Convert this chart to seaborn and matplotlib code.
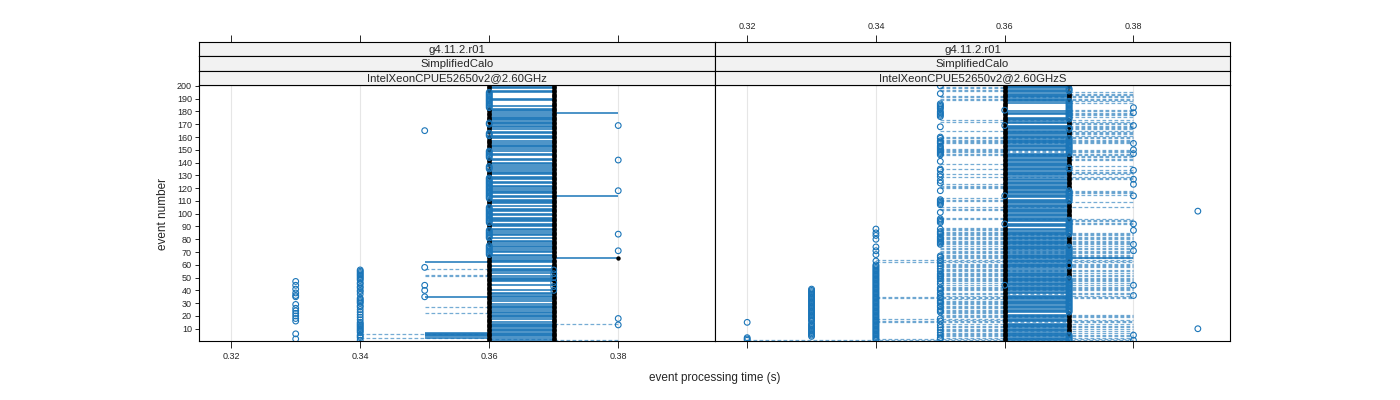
import matplotlib

matplotlib.use("Agg")

import matplotlib.pyplot as plt
import pandas as pd
import seaborn as sns

# one character per event (events 1..200, ten per group):
# digit d -> 0.3d s, "." -> no mark for that event
L_BLACK_A = (
    "6666666666 6666666666 6666666666 6666666666 6666666666 "
    "6666666666 6666666... .....66666 .......666 66........ "
    ".....66666 6......... ........66 6666...666 666......6 "
    "6666666666 ...666666. .666666666 66........ .....66666"
)
L_BLACK_B = (
    "7777777777 7777777777 7777777777 777777777. 77.77.777. "
    "77.77.7777 7777877777 7777777777 7777777777 7777777777 "
    "7777777777 7777777777 7777777777 7777777777 7777777777 "
    "7777777777 7777777777 7777777777 7777777777 7777777777"
)
L_BLUE_A = (
    "4344434444 4444434343 4343434434 4444334344 3443443444 "
    "444444.... .......... .......... .......... .......... "
    ".......... .......... .......... .......... .......... "
    ".......... .......... .......... .......... .........."
)
L_BLUE_B = (
    ".......... .......... .......... .........7 ..7..7...7 "
    "..7..7.... .......666 66666..... 6666666... ..66666666 "
    "66666..... .666666666 66666666.. ....666... ...666666. "
    ".......... 666......6 6......... ..66666666 66666....."
)
L_BLUE_C = (
    ".......... ..8....8.. .......... ....5....5 ...5...... "
    ".......5.. .......... 8......... ...8...... .......... "
    ".......... .......8.. .......... .......... .8........ "
    ".......... ....5...8. .......... .......... .........."
)
L_SOLID_LO = (
    "6.55555666 66666..666 666.66666. .66.5666.6 ...6..6666 "
    "6..6666.6. .5666.66.6 66.666.66. 6.66.666.6 66.6666.66 "
    ".666.6.666 6.66.6666. 66.66.666. 6666.66.66 .66..66.6. "
    "66666.6.66 6.66.6.666 6666666.66 66.6....66 ....66.66."
)
L_SOLID_HI = (
    "7.77777777 77777..777 777.77777. .77.7777.7 ...7..7777 "
    "7..7777.7. .7778.77.7 77.777.77. 7.77.777.7 77.7777.77 "
    ".777.7.777 7.78.7777. 77.77.777. 7777.77.77 .77..77.7. "
    "77777.7.77 7.77.7.777 7777777.87 77.7....77 ....77.77."
)
L_DASH_LO = (
    "764..4.... ...7...... .5....5... .......... .......... "
    "55....5... .......... .......... .......... .......... "
    ".......... .......... .......... .......... .......... "
    ".......... .......... .......... .......... .........."
)
L_DASH_HI = (
    "876..6.... ...8...... .6....6... .......... .......... "
    "66....6... .......... .......... .......... .......... "
    ".......... .......... .......... .......... .......... "
    ".......... .......... .......... .......... .........."
)

R_BLACK_A = (
    "6666666666 6666666666 6666666666 6666666666 6666666666 "
    "6666666666 6666666666 6666666666 6666666666 6666666666 "
    "6666666666 6666666666 6666666666 6666666666 6666666666 "
    "6666666666 6666666666 6666666666 6666666666 6666666666"
)
R_BLACK_B = (
    ".....77777 7777777777 77........ .......... .........7 "
    "77777777.. 777....... ....777777 777....... .....77777 "
    "777777777. ........77 7777777777 7777..7777 777777.... "
    ".........7 77777..777 777....... ........77 77777...77"
)
R_BLUE_A = (
    "2223333333 3333233333 3333333333 3333333333 3......... "
    ".......... .......... .......... .......... .......... "
    ".......... .......... .......... .......... .......... "
    ".......... .......... .......... .......... .........."
)
R_BLUE_B = (
    "4444444444 4444444444 4444444444 4444444444 4444444444 "
    "4444444444 ..4....4.. 4..4.....4 ..4.4..4.. .......... "
    ".......... .......... .......... .......... .......... "
    ".......... .......... .......... .......... .........."
)
R_BLUE_C = (
    ".55.5.5.5. 5.5..5.5.. ..555.55.5 55.55.55.5 55.65.5.55 "
    "555.5.5.5. 5.55.55... .....55555 55.555.5.. .65555.... "
    "5.....5555 5..6...5.. ...5.5..5. 5..55..... 5....55555 "
    "555.555.55 .......56. .....55555 655555.... ...5.....5"
)
R_BLUE_D = (
    "77777..... .......... ..77777777 7777777777 777777777. "
    "........77 ...7777777 7777...... ...7777777 77777..... "
    ".........7 77777777.. .......... ....77.... ......7777 "
    "777777777. .....77... ...7777777 77777777.. .....777.."
)
R_BLUE_E = (
    "8...8....9 .......... .......... .....8.... ...8...... "
    ".......... .......... 8....8.... ......8... .8........ "
    ".9........ ...8...... ..8...8... ...8...... ......8..8 "
    "....8..... ........8. ........8. ..8....... .........."
)
R_SOLID_LO = (
    "6666666666 6666.66666 6.66666666 666666.666 6666666666 "
    "66666.6666 666666666. 6666666666 66666666.6 66.6666666 "
    "6666666666 6.66666666 6666666.66 6666666666 6666666..6 "
    "6666666666 666666666. 66666..666 ......6666 6666666666"
)
R_SOLID_HI = (
    "7777777777 7777.77777 7.77777777 777777.777 7777777777 "
    "77777.7777 777787777. 7777777777 77777777.7 77.7777777 "
    "7777777777 7.77777777 7777777.77 7777777777 7777777..7 "
    "7777777777 777777777. 77777..777 ......7777 7777777777"
)
R_DASH_LO = (
    "2455555555 55.5445455 5555555555 55544555.5 5555.55555 "
    "5555555555 5454555555 555.555555 555555555. .777755... "
    "..555...75 55..7777.5 555...775. 57775.7.5. .777755555 "
    "5...555555 7777577777 755..77777 7.....7755 557775555."
)
R_DASH_HI = (
    "8888868868 88.8888688 8666666666 66688888.8 8888.88888 "
    "8868886888 8888888888 888.888888 888886666. .888886... "
    "..668...86 66..8888.6 666...888. 88886.8.6. .888888888 "
    "6...888888 8888888888 888..88888 8.....8888 888886666."
)

LEVELS = ["g4.11.2.r01", "SimplifiedCalo"]
CPUS = ["IntelXeonCPUE52650v2@2.60GHz", "IntelXeonCPUE52650v2@2.60GHzS"]
X_TICKS = [0.32, 0.34, 0.36, 0.38]
Y_TICKS = list(range(10, 201, 10))

BLUE = "#1a75b8"


def points(*codes):
    rows = []
    for code in codes:
        code = code.replace(" ", "")
        for i, c in enumerate(code):
            if c != ".":
                rows.append((i + 1, 0.3 + int(c) / 100))
    return pd.DataFrame(rows, columns=["event", "time"])


def segments(lo, hi):
    lo = lo.replace(" ", "")
    hi = hi.replace(" ", "")
    rows = []
    for i, (a, b) in enumerate(zip(lo, hi)):
        if a != "." and b != ".":
            rows.append((i + 1, 0.3 + int(a) / 100, 0.3 + int(b) / 100))
    return pd.DataFrame(rows, columns=["event", "lo", "hi"])


def draw_panel(ax, black, blue, solid, dashed):
    ax.set_xlim(0.315, 0.395)
    ax.set_ylim(0.4, 200.5)
    ax.set_xticks(X_TICKS)
    ax.set_yticks(Y_TICKS)
    ax.grid(axis="x", color="#e6e6e6", lw=0.8)
    ax.grid(axis="y", visible=False)
    ax.set_axisbelow(True)
    ax.hlines(dashed["event"], dashed["lo"], dashed["hi"], colors=BLUE,
              linestyles=(0, (3.0, 1.8)), lw=0.9, alpha=0.6, zorder=2)
    ax.hlines(solid["event"], solid["lo"], solid["hi"], colors=BLUE,
              lw=1.1, alpha=1.0, zorder=2)
    sns.scatterplot(data=black, x="time", y="event", ax=ax, color="black",
                    s=10, linewidth=0, legend=False, zorder=3)
    sns.scatterplot(data=blue, x="time", y="event", ax=ax, marker="o", s=17,
                    facecolor="none", edgecolor=BLUE, linewidth=0.8,
                    legend=False, zorder=4)
    ax.set_xlabel("")
    ax.set_ylabel("")
    for sp in ax.spines.values():
        sp.set_color("black")
        sp.set_linewidth(0.8)


def draw_strips(fig, left, width, cpu, top_labels):
    names = LEVELS + [cpu]
    h = 0.0362
    bottom = 0.7868
    axes = []
    for k, name in enumerate(names):
        y0 = bottom + (2 - k) * h
        sax = fig.add_axes([left, y0, width, h])
        sax.set_facecolor("#f2f2f2")
        sax.set_xlim(0.315, 0.395)
        sax.set_yticks([])
        sax.set_xticks([])
        for sp in sax.spines.values():
            sp.set_color("black")
            sp.set_linewidth(0.8)
        sax.text(0.5, 0.47, name, transform=sax.transAxes, ha="center",
                 va="center", fontsize=8.2)
        axes.append(sax)
    top = axes[0]
    top.set_xticks(X_TICKS)
    top.tick_params(axis="x", bottom=False, labelbottom=False, top=True,
                    labeltop=top_labels, length=5, width=0.7, labelsize=6.5,
                    pad=3)
    if top_labels:
        top.set_xticklabels([f"{v:.2f}" for v in X_TICKS])


sns.set_theme(style="white")
plt.rcParams["font.family"] = ["Liberation Sans", "DejaVu Sans"]

fig = plt.figure(figsize=(14, 4), dpi=100)
ax_l = fig.add_axes([0.1421, 0.1475, 0.3686, 0.6393])
ax_r = fig.add_axes([0.5107, 0.1475, 0.3679, 0.6393])

draw_panel(ax_l,
           points(L_BLACK_A, L_BLACK_B),
           points(L_BLUE_A, L_BLUE_B, L_BLUE_C),
           segments(L_SOLID_LO, L_SOLID_HI),
           segments(L_DASH_LO, L_DASH_HI))
draw_panel(ax_r,
           points(R_BLACK_A, R_BLACK_B),
           points(R_BLUE_A, R_BLUE_B, R_BLUE_C, R_BLUE_D, R_BLUE_E),
           segments(R_SOLID_LO, R_SOLID_HI),
           segments(R_DASH_LO, R_DASH_HI))

ax_l.set_xticklabels([f"{v:.2f}" for v in X_TICKS])
ax_l.tick_params(axis="x", bottom=True, length=5, width=0.7, labelsize=6.5,
                 pad=3)
ax_l.tick_params(axis="y", left=True, length=3, width=0.7, labelsize=6.5,
                 pad=2)
ax_r.tick_params(axis="x", bottom=True, labelbottom=False, length=5,
                 width=0.7)
ax_r.tick_params(axis="y", left=False, labelleft=False)

draw_strips(fig, 0.1421, 0.3686, CPUS[0], top_labels=False)
draw_strips(fig, 0.5107, 0.3679, CPUS[1], top_labels=True)

fig.text(0.5107, 0.055, "event processing time (s)", ha="center",
         va="center", fontsize=8.5)
fig.text(0.1165, 0.465, "event number", ha="center", va="center",
         rotation=90, fontsize=8.5)

plt.savefig("out.png", dpi=100)
plt.close()
